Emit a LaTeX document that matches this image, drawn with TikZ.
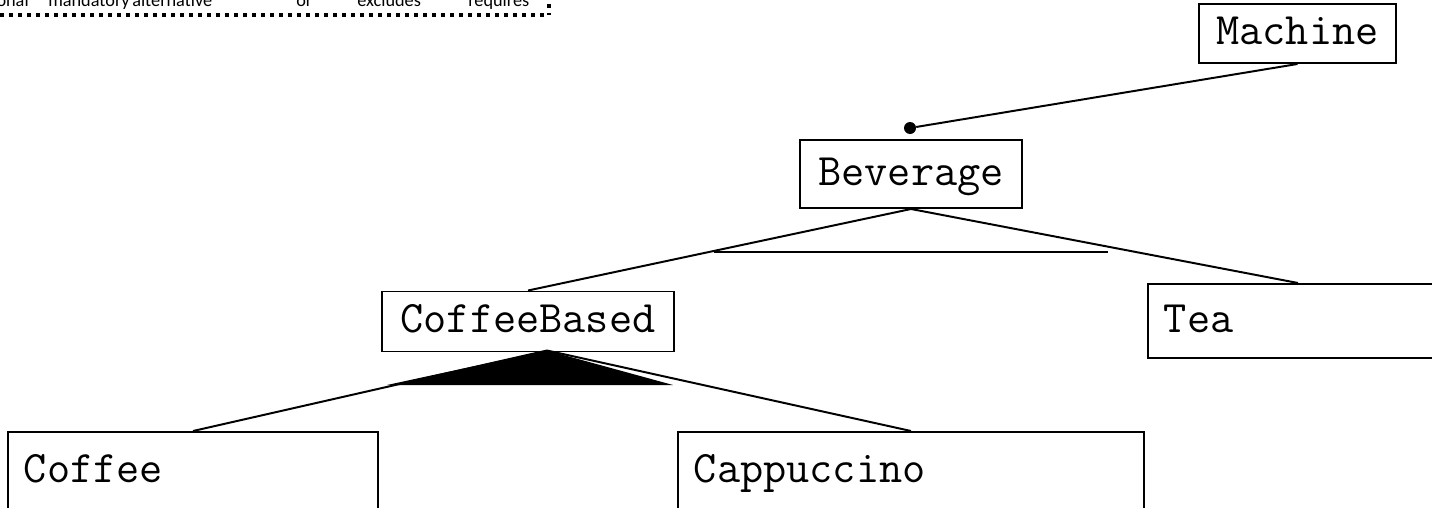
\documentclass[tikz,border=0pt]{standalone}
\usepackage{fontspec}
\newfontfamily\legendfont{Carlito}
\usetikzlibrary{calc}

\begin{document}
\begin{tikzpicture}[x=0.025cm, y=-0.025cm,
  feature/.style={draw, line width=1.4pt, inner xsep=0.4cm, inner ysep=0pt,
    font=\fontsize{32}{38}\selectfont\ttfamily, text height=24pt, text depth=8pt},
  legend/.style={inner sep=0pt, font=\legendfont\fontsize{13}{15}\selectfont},
  legend line/.style={line width=0.1cm, dash pattern=on 0.1cm off 0.125cm},
  conn/.style={line width=1.4pt}]
  \path[use as bounding box, clip] (0,0) rectangle (1432,507);

  % legend strip, cut at the top
  \node[legend, anchor=base east] (lOptional) at (29,6) {ional};
  \node[legend, anchor=base west] (lMandatory) at (48,6) {mandatory};
  \node[legend, anchor=base west] (lAlternative) at (132,6) {alternative};
  \node[legend, anchor=base west] (lOr) at (296,6) {or};
  \node[legend, anchor=base west] (lExcludes) at (357,6) {excludes};
  \node[legend, anchor=base west] (lRequires) at (468,6) {requires};
  \draw[legend line] (0,15) -- (549,15);
  \draw[legend line] (549,4) -- (549,15);

  % features
  \node[feature, minimum width=4.925cm, minimum height=1.475cm] (Machine) at (1297.5,33.5) {Machine};
  \node[feature, minimum width=5.55cm, minimum height=1.7cm] (Beverage) at (911,174) {Beverage};
  \node[feature, minimum width=7.3cm, minimum height=1.5cm] (CoffeeBased) at (528,321.5) {CoffeeBased};
  \node[feature, text width=6.7cm, align=left, minimum height=1.85cm] (Tea) at (1298,321) {Tea};
  \node[feature, text width=8.45cm, align=left, minimum height=1.95cm] (Coffee) at (193,471) {Coffee};
  \node[feature, text width=10.85cm, align=left, minimum height=1.95cm] (Cappuccino) at (911,471) {Cappuccino};

  % mandatory Beverage
  \node[circle, fill, inner sep=0pt, minimum size=0.3cm] (bevDot) at (910,128) {};
  \draw[conn] (Machine.south) -- (bevDot);

  % Beverage children
  \draw[conn] (Beverage.south) -- (CoffeeBased.north);
  \draw[conn] (Beverage.south) -- (Tea.north);
  \draw[conn] (714,252) -- (1108,252);

  % CoffeeBased children
  \coordinate (cbApex) at ($(CoffeeBased.south)+(19,-2)$);
  \fill (cbApex) -- (387,385) -- (673,385) -- cycle;
  \draw[conn] (cbApex) -- (Coffee.north);
  \draw[conn] (cbApex) -- (Cappuccino.north);
\end{tikzpicture}
\end{document}
